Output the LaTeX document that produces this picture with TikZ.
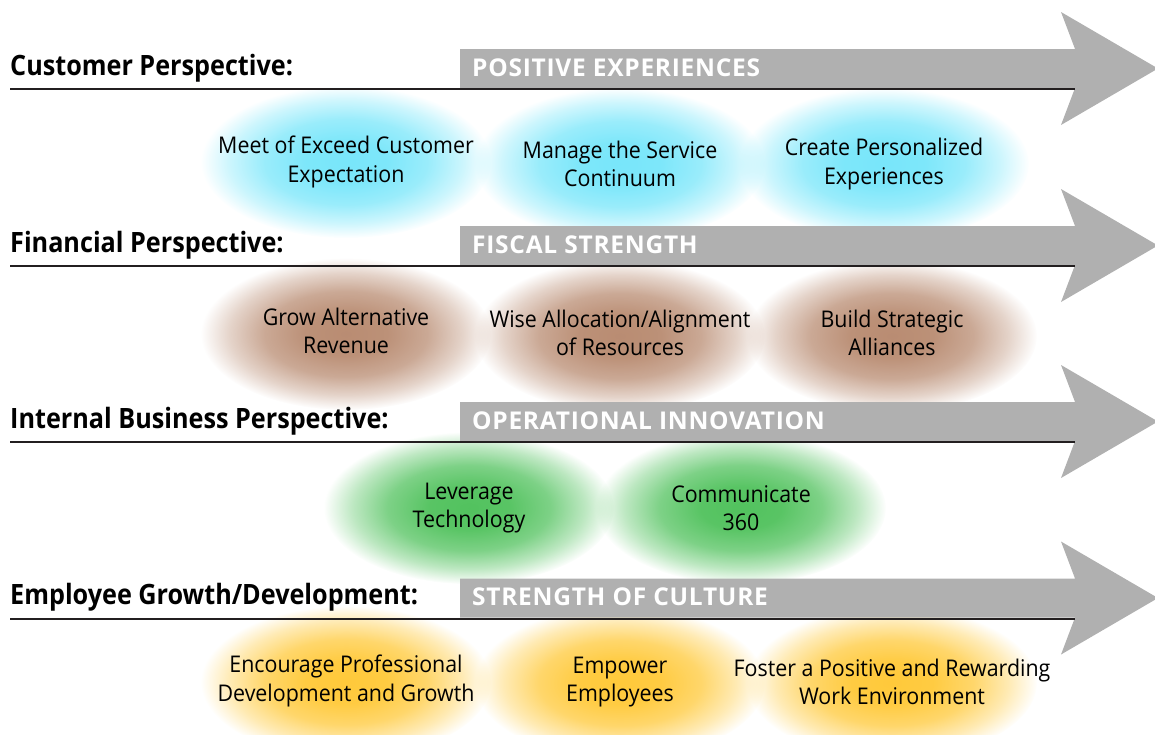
\documentclass[tikz,border=0pt]{standalone}
\usepackage{fontspec}
\setmainfont{Open Sans}
\newfontfamily\itemfont{Open Sans}[FakeStretch=0.93]
\newfontfamily\labelfont{Open Sans}[FakeStretch=0.9]
\usetikzlibrary{shapes.geometric,fadings}
\definecolor{bargray}{HTML}{B0B0B0}
\definecolor{linec}{HTML}{231F20}
\definecolor{cyanc}{HTML}{78E6FA}
\definecolor{brownc}{HTML}{B98C72}
\definecolor{greenc}{HTML}{52C25E}
\definecolor{yellowc}{HTML}{FFC93A}
\pgfdeclareradialshading{softshade}{\pgfpointorigin}{color(0bp)=(white); color(7bp)=(white!96!black); color(14bp)=(white!75!black); color(20bp)=(white!38!black); color(25bp)=(black); color(50bp)=(black)}
\pgfdeclarefading{soft}{\pgfuseshading{softshade}}
\tikzset{
  blob/.style={ellipse, minimum width=290, minimum height=152, inner sep=0, fill=#1, path fading=soft},
  itemtext/.style={align=center, font=\itemfont\fontsize{23}{28.5}\selectfont, text=black, inner sep=0},
  rowlabel/.style={anchor=base west, font=\labelfont\bfseries\fontsize{28}{32}\selectfont, inner sep=0},
  hdrtext/.style={anchor=base west, font=\fontsize{24.5}{28}\selectfont\bfseries\addfontfeatures{LetterSpace=3}, text=white, inner sep=0},
  bar/.style={fill=bargray, draw=none},
  rule/.style={draw=linec, line width=2}
}
\newcommand{\rowarrow}[2]{%
  \fill[bar] (460,#1-19.5) -- (1075,#1-19.5) -- (1061,#1-56.5) -- (1158,#1) -- (1061,#1+56.5) -- (1075,#1+19.5) -- (460,#1+19.5) -- cycle;
  \coordinate (L#2) at (10,#1+20.5);
  \coordinate (R#2) at (1075,#1+20.5);
  \draw[rule] (L#2) -- (R#2);
}
\begin{document}
\begin{tikzpicture}[x=1pt,y=-1pt]
\useasboundingbox (0,0) rectangle (1155,734);
\clip (0,0) rectangle (1155,734);
% blobs
\node[blob=cyanc] (b11) at (346,162) {};
\node[blob=cyanc] (b12) at (620,164) {};
\node[blob=cyanc] (b13) at (884,164) {};
\node[blob=brownc] (b21) at (346,334) {};
\node[blob=brownc] (b22) at (620,336) {};
\node[blob=brownc] (b23) at (892,336) {};
\node[blob=greenc] (b31) at (469,508) {};
\node[blob=greenc] (b32) at (741,508) {};
\node[blob=yellowc] (b41) at (346,682) {};
\node[blob=yellowc] (b42) at (620,683) {};
\node[blob=yellowc] (b43) at (892,683) {};
% arrows
\rowarrow{68.5}{a}
\rowarrow{245.5}{b}
\rowarrow{421.5}{c}
\rowarrow{598}{d}
% labels
\node[rowlabel] (l1) at (10,75) {Customer Perspective:};
\node[rowlabel] (l2) at (10,252) {Financial Perspective:};
\node[rowlabel] (l3) at (10,428) {Internal Business Perspective:};
\node[rowlabel] (l4) at (10,604.5) {Employee Growth/Development:};
\node[hdrtext] (h1) at (472,76) {POSITIVE EXPERIENCES};
\node[hdrtext] (h2) at (472,253) {FISCAL STRENGTH};
\node[hdrtext] (h3) at (472,429) {OPERATIONAL INNOVATION};
\node[hdrtext] (h4) at (472,605.5) {STRENGTH OF CULTURE};
% item texts
\node[itemtext] (t11) at (346,162) {Meet of Exceed Customer\\Expectation};
\node[itemtext] (t12) at (620,164) {Manage the Service\\Continuum};
\node[itemtext] (t13) at (884,164) {Create Personalized\\Experiences};
\node[itemtext] (t21) at (346,331) {Grow Alternative\\Revenue};
\node[itemtext] (t22) at (620,333) {Wise Allocation/Alignment\\of Resources};
\node[itemtext] (t23) at (892,333) {Build Strategic\\Alliances};
\node[itemtext] (t31) at (469,508) {Leverage\\Technology};
\node[itemtext] (t32) at (741,508) {Communicate\\360};
\node[itemtext] (t41) at (346,681) {Encourage Professional\\Development and Growth};
\node[itemtext] (t42) at (620,682) {Empower\\Employees};
\node[itemtext] (t43) at (892,682) {Foster a Positive and Rewarding\\Work Environment};
\end{tikzpicture}
\end{document}
